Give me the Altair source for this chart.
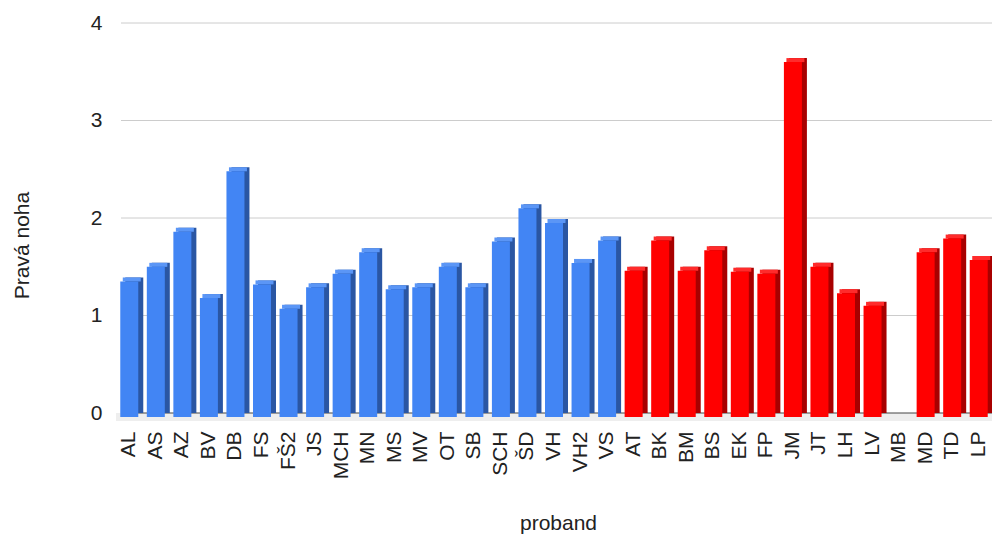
import altair as alt
import pandas as pd

categories = ["AL", "AS", "AZ", "BV", "DB", "FS", "FŠ2", "JS", "MCH", "MN", "MS", "MV",
              "OT", "SB", "SCH", "ŠD", "VH", "VH2", "VS",
              "AT", "BK", "BM", "BS", "EK", "FP", "JM", "JT", "LH", "LV", "MB", "MD", "TD", "LP"]
values = [1.39, 1.54, 1.90, 1.22, 2.52, 1.36, 1.11, 1.33, 1.47, 1.69, 1.31, 1.33,
          1.54, 1.33, 1.80, 2.14, 1.99, 1.58, 1.81,
          1.50, 1.81, 1.50, 1.71, 1.49, 1.47, 3.64, 1.54, 1.27, 1.14, None, 1.69, 1.83, 1.61]
groups = ["modrá"] * 19 + ["červená"] * 14
y_ticks = [0, 1, 2, 3, 4]

df = pd.DataFrame({"proband": categories, "v": values, "g": groups})

W, H = 876, 390
FONT = "Liberation Sans"
FS = 21

x = alt.X("proband:N", sort=categories, scale=alt.Scale(domain=categories, paddingInner=0.3, paddingOuter=0.15),
          title="proband",
          axis=alt.Axis(labelAngle=270, labelAlign="right", labelBaseline="middle", labelPadding=18,
                        labelFontSize=FS, labelFont=FONT, labelColor="#222", ticks=False, domain=False, grid=False,
                        titleFont=FONT, titleFontSize=FS, titleFontWeight="normal", titleColor="#222",
                        titleX=442, titleY=110, titleAlign="center", titleBaseline="middle"))
y = alt.Y("v:Q", scale=alt.Scale(domain=[0, 4]), title="Pravá noha",
          axis=alt.Axis(values=y_ticks, format="d", labelFontSize=FS, labelFont=FONT, labelColor="#222",
                        labelPadding=14, ticks=False, domain=False, grid=False,
                        titleFont=FONT, titleFontSize=FS, titleFontWeight="normal", titleColor="#222",
                        titleAngle=270, titleX=-94, titleY=222, titleAlign="center", titleBaseline="middle"))

def col(rng):
    return alt.Color("g:N", scale=alt.Scale(domain=["modrá", "červená"], range=rng), legend=None)

base = alt.Chart(df)
one = alt.Chart(pd.DataFrame({"a": [0]}))

grid = alt.Chart(pd.DataFrame({"t": y_ticks[1:]})).mark_rule(color="#cccccc", strokeWidth=1).encode(
    x=alt.value(5), x2=alt.value(W), y=alt.Y("t:Q"))
floor = one.mark_rect(color="#eeeeee").encode(
    x=alt.value(0), x2=alt.value(W), y=alt.value(H), y2=alt.value(H + 8))
zero = one.mark_rule(color="#444444", strokeWidth=1).encode(
    x=alt.value(5), x2=alt.value(W), y=alt.value(H))

back = base.mark_bar(size=18, xOffset=5).encode(
    x=x, y=y, y2=alt.datum(0), color=col(["#2a56a3", "#a80000"]))
top = base.mark_bar(size=18, xOffset=2.5, yOffset=0, y2Offset=4).encode(
    x=x, y=y, y2=alt.Y2("v:Q"), color=col(["#5b96f6", "#ff2b2b"]))
front = base.mark_bar(size=18, yOffset=4, y2Offset=4).encode(
    x=x, y=y, y2=alt.datum(0), color=col(["#4285f4", "#ff0000"]))

chart = alt.layer(grid, floor, zero, back, top, front).resolve_scale(color="independent").properties(
    width=W, height=H,
    background="white",
    autosize=alt.AutoSizeParams(type="none"),
    padding={"left": 116, "top": 23, "right": 0, "bottom": 122},
).configure_view(stroke="transparent", strokeWidth=0)

chart.save("out.html", embed_options={"renderer": "svg", "actions": False})
